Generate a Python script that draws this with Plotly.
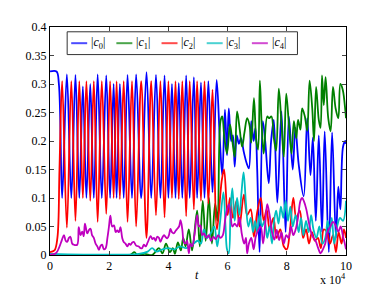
import plotly.graph_objects as go

# ---- data (t in units of 10^4) ----
t_c0 = [0.00, 0.22, 0.30, 0.41, 0.57, 0.72, 0.86, 0.99, 1.11, 1.23, 1.36, 1.48, 1.61, 1.75, 1.90, 2.03,
        2.15, 2.25, 2.36, 2.49, 2.62, 2.77, 2.91, 3.08, 3.26, 3.42, 3.58, 3.73, 3.87, 4.00, 4.12, 4.24,
        4.35, 4.47, 4.60, 4.72, 4.86, 4.97, 5.10, 5.22, 5.35, 5.49, 5.63, 5.74, 5.82, 5.91, 5.98, 6.04,
        6.12, 6.18, 6.24, 6.31, 6.38, 6.45, 6.55, 6.65, 6.72, 6.80, 6.88, 6.94, 7.00, 7.08, 7.19, 7.27,
        7.39, 7.47, 7.56, 7.68, 7.82, 7.96, 8.07, 8.20, 8.29, 8.40, 8.57, 8.69, 8.80, 8.88, 8.98, 9.08,
        9.19, 9.28, 9.42, 9.53, 9.66, 9.74, 9.81, 9.90, 9.98, 10.0]
c0 = [0.322, 0.322, 0.300, 0.100, 0.317, 0.100, 0.316, 0.100, 0.296, 0.100, 0.300, 0.100, 0.317, 0.100,
      0.315, 0.100, 0.300, 0.100, 0.300, 0.100, 0.316, 0.100, 0.317, 0.100, 0.321, 0.100, 0.316, 0.100,
      0.315, 0.100, 0.300, 0.100, 0.302, 0.100, 0.315, 0.100, 0.312, 0.100, 0.303, 0.100, 0.305, 0.110,
      0.307, 0.200, 0.140, 0.255, 0.175, 0.257, 0.200, 0.210, 0.155, 0.210, 0.195, 0.205, 0.180, 0.160,
      0.152, 0.235, 0.200, 0.223, 0.150, 0.005, 0.235, 0.200, 0.126, 0.200, 0.237, 0.092, 0.252, 0.040,
      0.243, 0.150, 0.223, 0.160, 0.103, 0.240, 0.140, 0.206, 0.060, 0.210, 0.040, 0.217, 0.005, 0.215,
      0.030, 0.120, 0.080, 0.190, 0.200, 0.195]

t_c1 = [0.00, 2.70, 2.85, 2.95, 3.20, 3.45, 3.68, 3.80, 3.92, 4.05, 4.15, 4.22, 4.32, 4.42, 4.50, 4.58,
        4.69, 4.80, 4.97, 5.06, 5.16, 5.26, 5.37, 5.47, 5.58, 5.66, 5.76, 5.82, 5.89, 5.98, 6.08, 6.16,
        6.24, 6.32, 6.41, 6.49, 6.57, 6.66, 6.74, 6.80, 6.89, 6.97, 7.03, 7.09, 7.15, 7.22, 7.34, 7.40,
        7.48, 7.56, 7.64, 7.73, 7.82, 7.90, 7.98, 8.07, 8.16, 8.24, 8.32, 8.38, 8.46, 8.52, 8.61, 8.69,
        8.77, 8.86, 8.92, 8.99, 9.08, 9.14, 9.19, 9.25, 9.31, 9.40, 9.48, 9.56, 9.65, 9.74, 9.81, 9.89,
        9.98, 10.0]
c1 = [0.000, 0.000, 0.005, 0.000, 0.002, 0.000, 0.012, 0.003, 0.020, 0.005, 0.012, 0.002, 0.022, 0.008,
      0.030, 0.015, 0.045, 0.008, 0.078, 0.015, 0.095, 0.025, 0.100, 0.020, 0.090, 0.060, 0.235, 0.243,
      0.206, 0.178, 0.229, 0.200, 0.172, 0.252, 0.220, 0.190, 0.215, 0.240, 0.228, 0.197, 0.275, 0.200,
      0.185, 0.306, 0.230, 0.178, 0.243, 0.240, 0.243, 0.206, 0.183, 0.292, 0.230, 0.172, 0.283, 0.230,
      0.178, 0.235, 0.205, 0.237, 0.220, 0.257, 0.243, 0.218, 0.306, 0.257, 0.200, 0.295, 0.237, 0.223,
      0.315, 0.263, 0.312, 0.240, 0.217, 0.295, 0.257, 0.240, 0.300, 0.290, 0.252, 0.240]

t_c2 = [0.00, 0.15, 0.25, 0.32, 0.41, 0.57, 0.72, 0.86, 0.99, 1.11, 1.23, 1.36, 1.48, 1.61, 1.75, 1.90,
        2.03, 2.15, 2.25, 2.36, 2.49, 2.62, 2.77, 2.91, 3.08, 3.26, 3.42, 3.58, 3.73, 3.87, 4.00, 4.12,
        4.24, 4.35, 4.47, 4.60, 4.72, 4.86, 4.97, 5.10, 5.22, 5.35, 5.49, 5.64, 5.80, 5.88, 6.00, 6.08,
        6.18, 6.30, 6.40, 6.55, 6.66, 6.78, 6.89, 7.00, 7.12, 7.22, 7.32, 7.42, 7.55, 7.65, 7.78, 7.90,
        8.00, 8.10, 8.22, 8.32, 8.44, 8.55, 8.65, 8.75, 8.85, 8.95, 9.05, 9.15, 9.25, 9.36, 9.46, 9.56,
        9.66, 9.75, 9.85, 9.93, 10.0]
c2 = [0.005, 0.008, 0.030, 0.150, 0.305, 0.048, 0.305, 0.060, 0.305, 0.100, 0.305, 0.095, 0.305, 0.058,
      0.305, 0.072, 0.305, 0.100, 0.305, 0.098, 0.305, 0.058, 0.305, 0.050, 0.305, 0.030, 0.305, 0.070,
      0.305, 0.066, 0.305, 0.100, 0.305, 0.098, 0.305, 0.068, 0.305, 0.080, 0.305, 0.095, 0.305, 0.090,
      0.290, 0.045, 0.130, 0.150, 0.070, 0.100, 0.065, 0.095, 0.050, 0.106, 0.070, 0.080, 0.032, 0.075,
      0.100, 0.060, 0.080, 0.045, 0.065, 0.030, 0.045, 0.015, 0.010, 0.040, 0.100, 0.065, 0.078, 0.030,
      0.045, 0.020, 0.040, 0.025, 0.030, 0.012, 0.045, 0.040, 0.020, 0.035, 0.005, 0.040, 0.020, 0.045,
      0.030]

t_c3 = [0.00, 3.00, 3.30, 3.45, 3.60, 3.80, 4.00, 4.20, 4.40, 4.60, 4.80, 5.00, 5.10, 5.20, 5.30, 5.45,
        5.55, 5.65, 5.75, 5.86, 5.93, 5.98, 6.04, 6.10, 6.16, 6.24, 6.32, 6.40, 6.47, 6.54, 6.62, 6.70,
        6.78, 6.86, 6.93, 7.00, 7.08, 7.16, 7.25, 7.34, 7.42, 7.50, 7.57, 7.64, 7.72, 7.80, 7.88, 7.96,
        8.04, 8.12, 8.20, 8.30, 8.40, 8.48, 8.56, 8.65, 8.74, 8.82, 8.90, 9.00, 9.10, 9.20, 9.30, 9.38,
        9.45, 9.52, 9.60, 9.70, 9.80, 9.90, 10.0]
c3 = [0.002, 0.002, 0.006, 0.012, 0.006, 0.010, 0.012, 0.010, 0.015, 0.012, 0.018, 0.025, 0.020, 0.045,
      0.030, 0.040, 0.050, 0.015, 0.060, 0.110, 0.050, 0.010, 0.003, 0.080, 0.117, 0.060, 0.100, 0.070,
      0.110, 0.145, 0.090, 0.050, 0.065, 0.040, 0.060, 0.040, 0.070, 0.050, 0.060, 0.030, 0.050, 0.020,
      0.060, 0.078, 0.055, 0.085, 0.065, 0.095, 0.060, 0.085, 0.050, 0.070, 0.040, 0.065, 0.035, 0.060,
      0.040, 0.070, 0.045, 0.030, 0.050, 0.020, 0.030, 0.060, 0.040, 0.065, 0.020, 0.050, 0.065, 0.060,
      0.095]

t_c4 = [0.00, 0.20, 0.30, 0.40, 0.47, 0.53, 0.58, 0.64, 0.69, 0.75, 0.81, 0.92, 0.97, 1.03, 1.09, 1.14,
        1.18, 1.26, 1.32, 1.37, 1.42, 1.48, 1.54, 1.60, 1.65, 1.71, 1.76, 1.82, 1.88, 1.94, 1.99, 2.04,
        2.10, 2.16, 2.22, 2.27, 2.33, 2.38, 2.44, 2.49, 2.55, 2.61, 2.67, 2.72, 2.78, 2.83, 2.92, 3.00,
        3.06, 3.11, 3.17, 3.23, 3.30, 3.40, 3.46, 3.51, 3.57, 3.62, 3.68, 3.73, 3.79, 3.85, 3.90, 3.96,
        4.02, 4.07, 4.12, 4.18, 4.24, 4.30, 4.36, 4.41, 4.47, 4.52, 4.58, 4.63, 4.69, 4.74, 4.80, 4.88,
        4.97, 5.03, 5.08, 5.14, 5.20, 5.28, 5.36, 5.44, 5.52, 5.60, 5.68, 5.76, 5.84, 5.93, 6.04, 6.10,
        6.16, 6.24, 6.32, 6.40, 6.48, 6.56, 6.62, 6.66, 6.72, 6.80, 6.88, 6.95, 7.04, 7.12, 7.20, 7.28,
        7.34, 7.42, 7.50, 7.58, 7.66, 7.74, 7.82, 7.90, 7.98, 8.06, 8.14, 8.22, 8.30, 8.38, 8.46, 8.52,
        8.58, 8.66, 8.74, 8.82, 8.90, 8.98, 9.06, 9.14, 9.22, 9.30, 9.36, 9.46, 9.56, 9.65, 9.74, 9.82,
        9.90, 9.96, 10.0]
c4 = [0.000, 0.003, 0.012, 0.026, 0.035, 0.025, 0.023, 0.030, 0.032, 0.020, 0.018, 0.018, 0.049, 0.035,
      0.041, 0.033, 0.055, 0.038, 0.044, 0.046, 0.035, 0.030, 0.020, 0.015, 0.009, 0.016, 0.018, 0.010,
      0.012, 0.030, 0.049, 0.069, 0.050, 0.052, 0.040, 0.043, 0.040, 0.049, 0.030, 0.023, 0.020, 0.015,
      0.020, 0.018, 0.022, 0.023, 0.016, 0.015, 0.012, 0.012, 0.018, 0.015, 0.022, 0.033, 0.028, 0.030,
      0.025, 0.032, 0.030, 0.023, 0.030, 0.035, 0.032, 0.029, 0.035, 0.046, 0.040, 0.038, 0.042, 0.046,
      0.050, 0.061, 0.045, 0.023, 0.020, 0.025, 0.003, 0.020, 0.015, 0.035, 0.070, 0.050, 0.052, 0.035,
      0.038, 0.030, 0.035, 0.025, 0.032, 0.028, 0.035, 0.030, 0.035, 0.066, 0.089, 0.072, 0.050, 0.055,
      0.050, 0.066, 0.037, 0.020, 0.030, 0.003, 0.020, 0.030, 0.010, 0.032, 0.044, 0.050, 0.020, 0.060,
      0.089, 0.070, 0.040, 0.027, 0.044, 0.026, 0.040, 0.020, 0.035, 0.030, 0.050, 0.035, 0.045, 0.066,
      0.095, 0.100, 0.094, 0.080, 0.058, 0.040, 0.030, 0.024, 0.012, 0.003, 0.010, 0.020, 0.038, 0.049,
      0.058, 0.052, 0.041, 0.050, 0.032, 0.020, 0.010]

names = ["|<i>c</i><sub>0</sub>|", "|<i>c</i><sub>1</sub>|", "|<i>c</i><sub>2</sub>|",
         "|<i>c</i><sub>3</sub>|", "|<i>c</i><sub>4</sub>|"]
colors = ["#0000ff", "#008000", "#ff0000", "#00bfbf", "#bf00bf"]
x_ticks = [0, 2, 4, 6, 8, 10]

fig = go.Figure()
for tt, yy, nm, col in zip([t_c0, t_c1, t_c2, t_c3, t_c4], [c0, c1, c2, c3, c4], names, colors):
    fig.add_trace(go.Scatter(x=tt, y=yy, mode="lines", name=nm, showlegend=False,
                             line=dict(color=col, width=1.8, shape="spline", smoothing=1.0)))

font = dict(family="Liberation Serif, Times New Roman, serif", size=12, color="black")

# manual legend (box, short line samples, labels) in paper coordinates
shapes = [dict(type="rect", xref="paper", yref="paper", x0=0.058, x1=0.836, y0=0.879, y1=0.979,
               line=dict(color="#333333", width=1), fillcolor="white", layer="above")]
annotations = []
leg_y = 0.929
for i, (nm, col) in enumerate(zip(names, colors)):
    x0 = 0.0716 + 0.1526 * i
    shapes.append(dict(type="line", xref="paper", yref="paper", x0=x0, x1=x0 + 0.054,
                       y0=leg_y, y1=leg_y, line=dict(color=col, width=2), opacity=0.7,
                       layer="above"))
    annotations.append(dict(text=nm, xref="paper", yref="paper", x=x0 + 0.060, y=leg_y,
                            xanchor="left", yanchor="middle", showarrow=False, font=font))

annotations += [
    dict(text="<i>t</i>", xref="paper", yref="paper", x=0.498, y=-0.089,
         xanchor="center", yanchor="middle", showarrow=False, font=font),
    dict(text="x 10<sup>4</sup>", xref="paper", yref="paper", x=1.006, y=-0.108,
         xanchor="right", yanchor="middle", showarrow=False, font=font),
]

fig.update_layout(
    width=374, height=279,
    margin=dict(l=41.5, r=36.3, t=13.7, b=31.7),
    paper_bgcolor="white", plot_bgcolor="white",
    font=font,
    showlegend=False,
    shapes=shapes,
    annotations=annotations,
    xaxis=dict(range=[0, 10], tickvals=x_ticks, ticks="inside", ticklen=4, showline=True,
               linecolor="black", linewidth=1, mirror="ticks", showgrid=False, zeroline=False,
               tickfont=font),
    yaxis=dict(range=[0, 0.4], dtick=0.05, ticks="inside", ticklen=4, showline=True,
               linecolor="black", linewidth=1, mirror="ticks", showgrid=False, zeroline=False,
               tickfont=font),
)
fig.write_html("out.html")
